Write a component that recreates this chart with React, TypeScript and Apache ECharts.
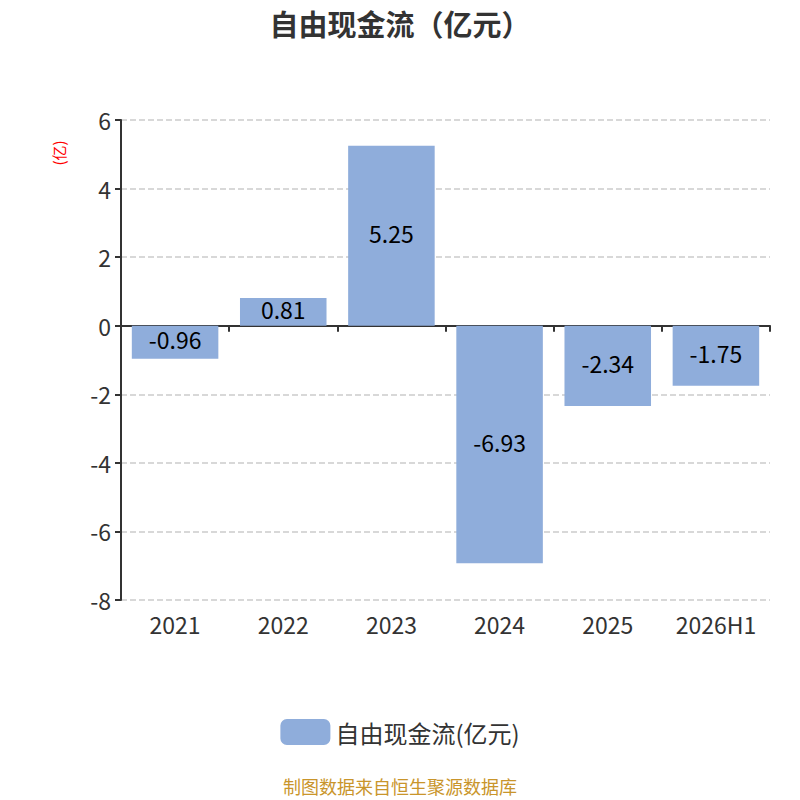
import React, { useEffect, useRef } from "react";
import * as echarts from "echarts";

const categories = ["2021", "2022", "2023", "2024", "2025", "2026H1"];
const values = [-0.96, 0.81, 5.25, -6.93, -2.34, -1.75];
const seriesName = "自由现金流(亿元)";
const titleText = "自由现金流（亿元）";
const unitText = "(亿)";
const footerText = "制图数据来自恒生聚源数据库";

const FONT = "'Noto Sans CJK SC', 'Noto Sans', sans-serif";

export default function App() {
  const ref = useRef<HTMLDivElement>(null);
  useEffect(() => {
    const chart = echarts.init(ref.current!, null, { renderer: "svg" });
    chart.setOption({
      animation: false,
      textStyle: { fontFamily: FONT },
      title: {
        text: titleText,
        left: "center",
        top: 3,
        textStyle: { fontSize: 29, fontWeight: "bold", color: "#333", fontFamily: FONT },
      },
      legend: {
        bottom: 50,
        left: "center",
        itemWidth: 50,
        itemHeight: 26,
        itemGap: 10,
        textStyle: { fontSize: 24, color: "#333", fontFamily: FONT },
        data: [{ name: seriesName, icon: "roundRect" }],
      },
      grid: { left: 121, right: 30, top: 120, bottom: 200 },
      xAxis: [
        {
          type: "category",
          data: categories,
          position: "bottom",
          axisLine: { show: false, onZero: false },
          axisTick: { show: false },
          axisLabel: { fontSize: 23, color: "#333", margin: 12, fontFamily: FONT },
        },
        {
          type: "category",
          data: categories,
          position: "top",
          axisLine: { show: true, onZero: true, lineStyle: { color: "#333", width: 2 } },
          axisTick: { show: true, inside: true, length: 6, lineStyle: { color: "#333", width: 2 } },
          axisLabel: { show: false },
        },
      ],
      yAxis: {
        type: "value",
        min: -8,
        max: 6,
        interval: 2,
        axisLine: { show: true, lineStyle: { color: "#333", width: 2 } },
        axisTick: { show: true, length: 6, lineStyle: { color: "#333", width: 2 } },
        axisLabel: { fontSize: 23, color: "#333", margin: 10, fontFamily: FONT },
        splitLine: { show: true, lineStyle: { color: "#ccc", type: "dashed", width: 1.5 } },
      },
      series: [
        {
          name: seriesName,
          type: "bar",
          xAxisIndex: 0,
          data: values,
          barWidth: "80%",
          itemStyle: { color: "#8FADDB" },
          label: {
            show: true,
            position: "inside",
            offset: [0, -3],
            fontSize: 23,
            color: "#000",
            fontFamily: FONT,
          },
        },
      ],
      graphic: [
        {
          type: "text",
          x: 58,
          y: 153,
          rotation: Math.PI / 2,
          style: {
            text: unitText,
            fill: "red",
            font: `15px ${FONT}`,
            align: "center",
            verticalAlign: "middle",
          },
        },
        {
          type: "text",
          left: "center",
          top: 777,
          style: { text: footerText, fill: "#C9952B", font: `18px ${FONT}` },
        },
      ],
    });
    return () => chart.dispose();
  }, []);
  return (
    <div
      ref={ref}
      style={{ position: "absolute", left: 0, top: 0, width: 800, height: 800 }}
    />
  );
}
